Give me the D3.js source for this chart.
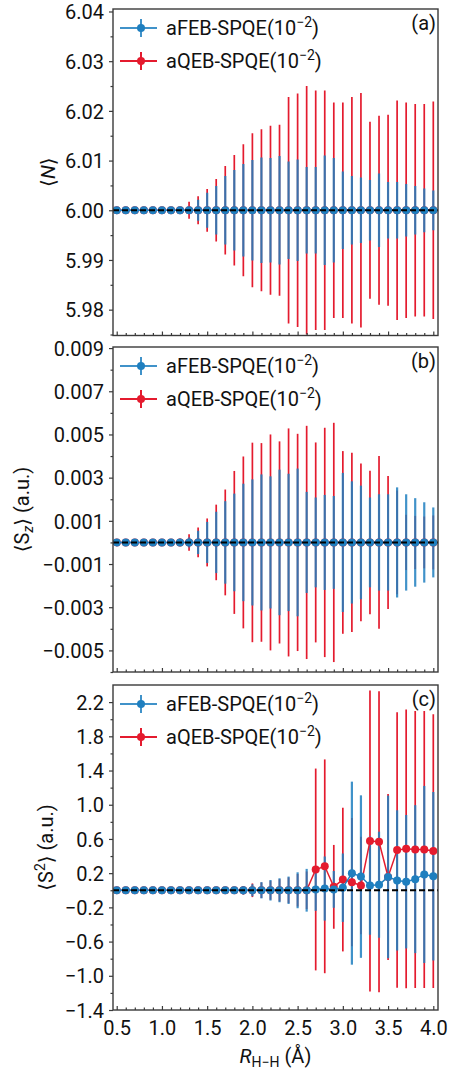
<!DOCTYPE html>
<html><head><meta charset="utf-8">
<script src="https://cdn.jsdelivr.net/npm/d3@7"></script>
<style>
body{margin:0;background:#fff;}
svg{display:block;font-family:Roboto,"DejaVu Sans",sans-serif;}
</style></head><body>
<svg id="c" width="449" height="1074"></svg>
<script>
// ---------------- data ----------------
const R = [0.5,0.6,0.7,0.8,0.9,1.0,1.1,1.2,1.3,1.4,1.5,1.6,1.7,1.8,1.9,2.0,2.1,2.2,2.3,2.4,2.5,2.6,2.7,2.8,2.9,3.0,3.1,3.2,3.3,3.4,3.5,3.6,3.7,3.8,3.9,4.0];
const seriesNames = ["aFEB-SPQE", "aQEB-SPQE"];

// panel (a) <N>
const N_FEB = [6,6,6,6,6,6,6,6,6,6,6,6,6,6,6,6,6,6,6,6,6,6,6,6,6,6,6,6,6,6,6,6,6,6,6,6];
const N_FEB_err = [0,0,0,0,0,0,0,0.0001,0.0005,0.0021,0.0035,0.0049,0.0069,0.0081,0.0093,0.0101,0.0106,0.0105,0.0109,0.0098,0.0102,0.0087,0.0087,0.0110,0.0105,0.0078,0.0069,0.0066,0.0061,0.0074,0.0057,0.0057,0.0053,0.0049,0.0044,0.0040];
const N_QEB = [6,6,6,6,6,6,6,6,6,6,6,6,6,6,6,6,6,6,6,6,6,6,6,6,6,6,6,6,6,6,6,6,6,6,6,6];
const N_QEB_err = [0,0,0,0,0,0,0,0.0006,0.0017,0.0028,0.0043,0.0063,0.0089,0.0111,0.0133,0.0155,0.0163,0.0170,0.0172,0.0228,0.0235,0.0250,0.0241,0.0241,0.0217,0.0217,0.0228,0.0236,0.0178,0.0190,0.0192,0.0221,0.0217,0.0214,0.0214,0.0219];

// panel (b) <Sz>
const SZ_FEB = [0,0,0,0,0,0,0,0,0,0,0,0,0,0,0,0,0,0,0,0,0,0,0,0,0,0,0,0,0,0,0,0,0,0,0,0];
const SZ_FEB_err = [0,0,0,0,0,0,0,0.0001,0.00023,0.00054,0.00095,0.00142,0.00191,0.00226,0.00272,0.00292,0.00315,0.00306,0.00337,0.00318,0.00342,0.00234,0.00208,0.00220,0.00215,0.00322,0.00283,0.00263,0.00208,0.00223,0.00223,0.00255,0.00223,0.00205,0.00186,0.00162];
const SZ_QEB = [0,0,0,0,0,0,0,0,0,0,0,0,0,0,0,0,0,0,0,0,0,0,0,0,0,0,0,0,0,0,0,0,0,0,0,0];
const SZ_QEB_err = [0,0,0,0,0,0,0,0.00018,0.00038,0.00069,0.00111,0.00175,0.00245,0.00331,0.00398,0.00462,0.00460,0.00500,0.00468,0.00528,0.00503,0.00540,0.00463,0.00531,0.00554,0.00423,0.00415,0.00365,0.00332,0.00400,0.00308,0.00240,0.00128,0.00123,0.00120,0.00125];

// panel (c) <S^2>
const S2_FEB = [0,0,0,0,0,0,0,0,0,0,0,0,0,0,0,0,0,0,0,0,0,0,0.01,0.02,0.01,0.03,0.20,0.16,0.055,0.065,0.156,0.115,0.10,0.13,0.185,0.164];
const S2_FEB_err = [0,0,0,0,0,0,0,0,0,0,0,0,0,0.02,0.05,0.07,0.095,0.12,0.14,0.16,0.21,0.25,0.25,0.375,0.215,0.40,1.07,0.95,0.575,0.62,0.95,0.82,0.78,0.865,1.035,0.985];
const S2_QEB = [0,0,0,0,0,0,0,0,0,0,0,0,0,0,0,0,0,0,0,0,0,0,0.243,0.28,0.04,0.125,0.094,0.055,0.575,0.567,0.156,0.47,0.485,0.477,0.477,0.458];
const S2_QEB_err = [0,0,0,0,0,0,0,0,0,0,0,0,0.01,0.03,0.05,0.08,0.09,0.11,0.13,0.15,0.19,0.22,1.18,1.25,0.49,0.84,0.75,0.57,1.76,1.76,0.97,1.61,1.63,1.62,1.62,1.60];

// tick values
const xMajor = [0.5,1.0,1.5,2.0,2.5,3.0,3.5,4.0];
const xMinor = [0.6,0.7,0.8,0.9,1.1,1.2,1.3,1.4,1.6,1.7,1.8,1.9,2.1,2.2,2.3,2.4,2.6,2.7,2.8,2.9,3.1,3.2,3.3,3.4,3.6,3.7,3.8,3.9];
const aMajor = [5.98,5.99,6.00,6.01,6.02,6.03,6.04];
const aMinor = [5.975,5.985,5.995,6.005,6.015,6.025,6.035];
const bMajor = [-0.005,-0.003,-0.001,0.001,0.003,0.005,0.007,0.009];
const bMinor = [-0.006,-0.004,-0.002,0,0.002,0.004,0.006,0.008];
const cMajor = [-1.4,-1.0,-0.6,-0.2,0.2,0.6,1.0,1.4,1.8,2.2];
const cMinor = [-1.2,-0.8,-0.4,0,0.4,0.8,1.2,1.6,2.0];

// ---------------- drawing ----------------
const svg = d3.select("#c");
const left = 113, right = 438;
const BLUE = "#1f7fbf", RED = "#e41b2e", AXC = "#3a3a3a";
const x = d3.scaleLinear().domain([0.459, 4.052]).range([left, right]);

function panel(cfg){
  const {idx, top, bottom, ydom, ref, yMajor, yMinor, fmt, feb, febErr, qeb, qebErr, tag, showXLabels} = cfg;
  const y = d3.scaleLinear().domain(ydom).range([bottom, top]);
  const clipId = "clip" + idx;
  svg.append("clipPath").attr("id", clipId).append("rect")
    .attr("x", left).attr("y", top).attr("width", right - left).attr("height", bottom - top);
  const g = svg.append("g");
  const plot = g.append("g").attr("clip-path", `url(#${clipId})`);
  const rows = R.map((r, i) => ({r, f: feb[i], fe: febErr[i], q: qeb[i], qe: qebErr[i]}));

  plot.append("g").selectAll("line").data(rows.filter(d => d.qe > 0)).join("line")
    .attr("x1", d => x(d.r)).attr("x2", d => x(d.r))
    .attr("y1", d => y(d.q - d.qe)).attr("y2", d => y(d.q + d.qe))
    .attr("stroke", RED).attr("stroke-width", 1.7);
  plot.append("g").selectAll("line").data(rows.filter(d => d.fe > 0)).join("line")
    .attr("x1", d => x(d.r)).attr("x2", d => x(d.r))
    .attr("y1", d => y(d.f - d.fe)).attr("y2", d => y(d.f + d.fe))
    .attr("stroke", BLUE).attr("stroke-opacity", 0.85).attr("stroke-width", 2.2);

  plot.append("path").datum(rows)
    .attr("d", d3.line().x(d => x(d.r)).y(d => y(d.q)))
    .attr("fill", "none").attr("stroke", RED).attr("stroke-width", 1.5);
  plot.append("g").selectAll("circle").data(rows).join("circle")
    .attr("cx", d => x(d.r)).attr("cy", d => y(d.q)).attr("r", 4).attr("fill", RED);
  plot.append("path").datum(rows)
    .attr("d", d3.line().x(d => x(d.r)).y(d => y(d.f)))
    .attr("fill", "none").attr("stroke", BLUE).attr("stroke-width", 1.5);
  plot.append("g").selectAll("circle").data(rows).join("circle")
    .attr("cx", d => x(d.r)).attr("cy", d => y(d.f)).attr("r", 4).attr("fill", BLUE);

  plot.append("line").attr("x1", left).attr("x2", right)
    .attr("y1", y(ref)).attr("y2", y(ref))
    .attr("stroke", "#000").attr("stroke-width", 2).attr("stroke-dasharray", "6,3");

  // y axis
  const yAx = g.append("g").attr("transform", `translate(${left},0)`)
    .call(d3.axisLeft(y).tickValues(yMajor).tickFormat(d3.format(fmt)).tickSize(4).tickPadding(5));
  yAx.selectAll("text").attr("dy", "0.36em");
  const yAxm = g.append("g").attr("transform", `translate(${left},0)`)
    .call(d3.axisLeft(y).tickValues(yMinor).tickFormat("").tickSize(2.5));
  // x axis (inward ticks)
  const xAx = g.append("g").attr("transform", `translate(0,${bottom})`)
    .call(d3.axisBottom(x).tickValues(xMajor).tickFormat(showXLabels ? d3.format(".1f") : "").tickSize(-4).tickPadding(11));
  const xAxm = g.append("g").attr("transform", `translate(0,${bottom})`)
    .call(d3.axisBottom(x).tickValues(xMinor).tickFormat("").tickSize(-2.5));
  [yAx, yAxm, xAx, xAxm].forEach(a => {
    a.select(".domain").remove();
    a.selectAll("line").attr("stroke", AXC).attr("stroke-width", 1.2);
    a.selectAll("text").attr("font-size", 20).attr("fill", "#111").attr("font-family", "Roboto");
  });

  g.append("rect").attr("x", left).attr("y", top).attr("width", right - left).attr("height", bottom - top)
    .attr("fill", "none").attr("stroke", AXC).attr("stroke-width", 1.4);

  // legend
  const leg = [{c: BLUE, name: seriesNames[0], dy: 19, op: 0.85}, {c: RED, name: seriesNames[1], dy: 52, op: 1}];
  leg.forEach(l => {
    const ly = top + l.dy;
    g.append("line").attr("x1", left + 7).attr("x2", left + 44).attr("y1", ly).attr("y2", ly)
      .attr("stroke", l.c).attr("stroke-width", 1.8).attr("stroke-opacity", l.op);
    g.append("line").attr("x1", left + 28).attr("x2", left + 28).attr("y1", ly - 9).attr("y2", ly + 9)
      .attr("stroke", l.c).attr("stroke-width", 2).attr("stroke-opacity", l.op);
    g.append("circle").attr("cx", left + 28).attr("cy", ly).attr("r", 4).attr("fill", l.c);
    const t = g.append("text").attr("x", left + 53).attr("y", ly + 7).attr("font-size", 20).attr("fill", "#111");
    t.append("tspan").text(l.name + "(10");
    t.append("tspan").attr("font-size", 14).attr("dy", -8).text("−2");
    t.append("tspan").attr("dy", 8).text(")");
  });

  g.append("text").attr("x", 436).attr("y", top + 21).attr("text-anchor", "end")
    .attr("font-size", 20).attr("fill", "#111").text(tag);
  return {g, y};
}

panel({idx: 0, top: 9, bottom: 335.5, ydom: [5.9748, 6.0405], ref: 6.0, yMajor: aMajor, yMinor: aMinor, fmt: ".2f",
  feb: N_FEB, febErr: N_FEB_err, qeb: N_QEB, qebErr: N_QEB_err, tag: "(a)", showXLabels: false});
panel({idx: 1, top: 347, bottom: 672, ydom: [-0.006, 0.00905], ref: 0, yMajor: bMajor, yMinor: bMinor, fmt: ".3f",
  feb: SZ_FEB, febErr: SZ_FEB_err, qeb: SZ_QEB, qebErr: SZ_QEB_err, tag: "(b)", showXLabels: false});
panel({idx: 2, top: 685, bottom: 1010, ydom: [-1.4, 2.4], ref: 0, yMajor: cMajor, yMinor: cMinor, fmt: ".1f",
  feb: S2_FEB, febErr: S2_FEB_err, qeb: S2_QEB, qebErr: S2_QEB_err, tag: "(c)", showXLabels: true});

// axis labels
const la = svg.append("text").attr("transform", "translate(55,172.2) rotate(-90)")
  .attr("text-anchor", "middle").attr("font-size", 20).attr("fill", "#111");
la.append("tspan").text("⟨");
la.append("tspan").attr("font-style", "italic").text("N");
la.append("tspan").text("⟩");

const lb = svg.append("text").attr("transform", "translate(29,509.5) rotate(-90)")
  .attr("text-anchor", "middle").attr("font-size", 20).attr("fill", "#111");
lb.append("tspan").text("⟨S");
lb.append("tspan").attr("font-size", 14).attr("font-style", "italic").attr("dy", 4).text("z");
lb.append("tspan").attr("dy", -4).text("⟩ (a.u.)");

const lc = svg.append("text").attr("transform", "translate(53,847.5) rotate(-90)")
  .attr("text-anchor", "middle").attr("font-size", 20).attr("fill", "#111");
lc.append("tspan").text("⟨S");
lc.append("tspan").attr("font-size", 14).attr("dy", -8).text("2");
lc.append("tspan").attr("dy", 8).text("⟩ (a.u.)");

const lx = svg.append("text").attr("x", 275.5).attr("y", 1063)
  .attr("text-anchor", "middle").attr("font-size", 20).attr("fill", "#111");
lx.append("tspan").attr("font-style", "italic").text("R");
lx.append("tspan").attr("font-size", 14).attr("dy", 4).text("H−H");
lx.append("tspan").attr("dy", -4).text(" (Å)");
</script>
</body></html>
